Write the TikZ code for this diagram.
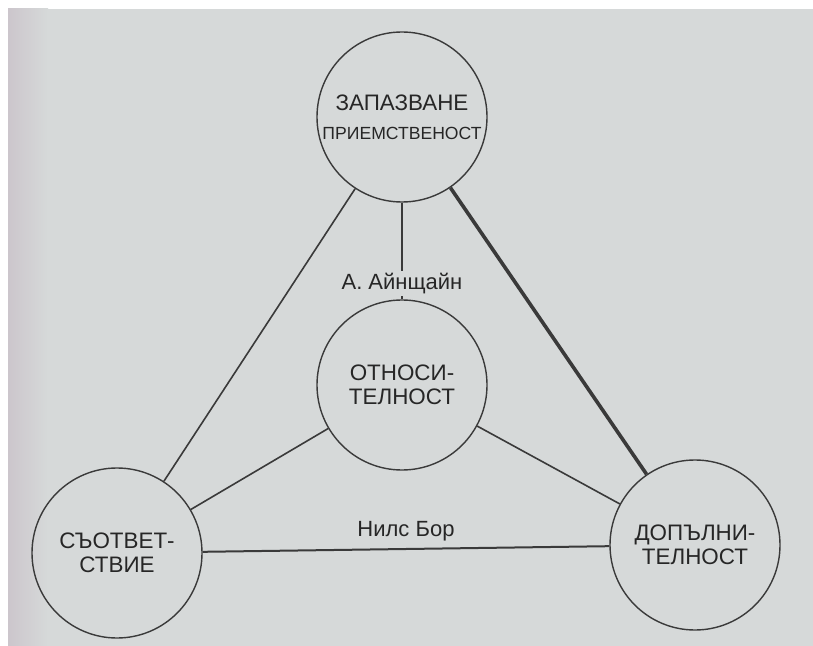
\documentclass[tikz,border=0pt]{standalone}
\usepackage{fontspec}
\setmainfont{Liberation Sans}
\usepackage{tikz}
\definecolor{paper}{RGB}{214,217,217}
\definecolor{ink}{RGB}{58,58,58}

\begin{document}
\begin{tikzpicture}[x=0.5pt, y=-0.5pt, cnode/.style={draw=ink, line width=0.7pt, circle, minimum size=85pt, inner sep=0pt, align=center, text=black!85, font=\fontsize{11.2}{12}\selectfont}, lnode/.style={text=black!85, font=\fontsize{11}{12}\selectfont}]
    \useasboundingbox (0,0) rectangle (813,646);
    \fill[white] (0,0) rectangle (813,646);
    \fill[paper] (8,9) rectangle (813,646);
    \shade[left color={rgb,255:red,204;green,198;blue,204}, right color=paper] (8,9) rectangle (48,646);

    \node[cnode] (zap) at (402,117) {ЗАПАЗВАНЕ\\[2.5pt]{\fontsize{8.8}{10}\selectfont ПРИЕМСТВЕНОСТ}};
    \node[cnode] (otn) at (402,385) {ОТНОСИ-\\ТЕЛНОСТ};
    \node[cnode] (sao) at (117,553) {СЪОТВЕТ-\\СТВИЕ};
    \node[cnode] (dop) at (695,545) {ДОПЪЛНИ-\\ТЕЛНОСТ};

    \draw[ink, line width=1.8pt] (zap) edge (dop) ;
    \draw[ink, line width=1pt] (sao) edge node [pos=0.5, above, lnode] {Нилс Бор} (dop) ;

   \begin{scope}[ink, line width=0.8pt]
    \draw (zap) to (sao) ;
    \draw (otn) to (sao) ;
    \draw (otn) to (dop) ;
    \draw (zap) to node [pos=0.84, fill=paper, inner sep=1pt, lnode] {А. Айнщайн} (otn) ;
   \end{scope}
\end{tikzpicture}
\end{document}
